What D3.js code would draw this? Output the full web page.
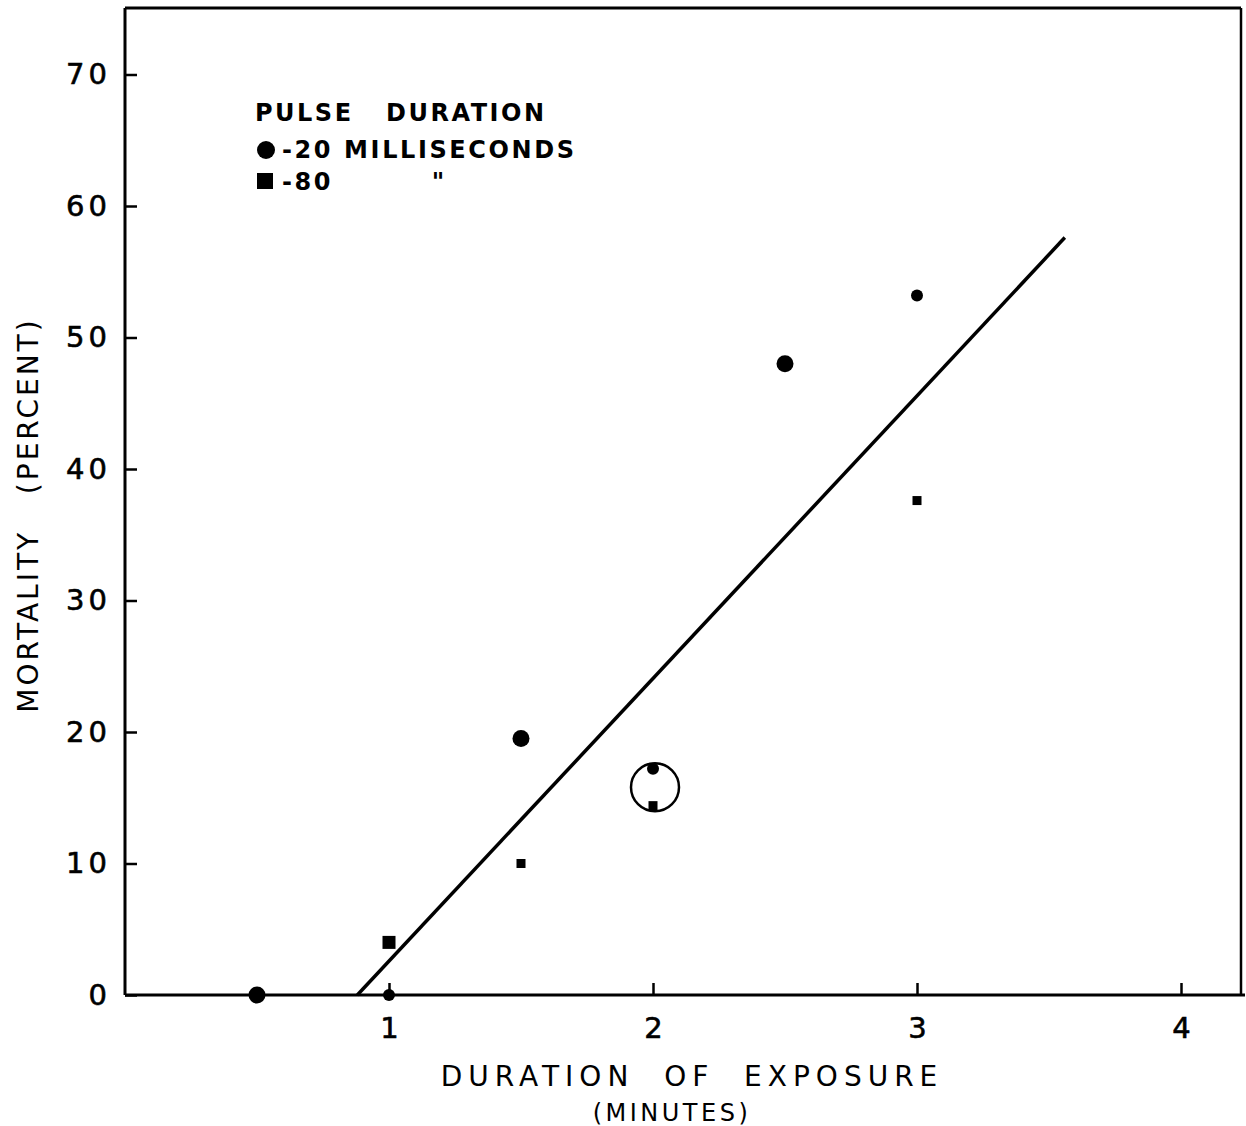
<!DOCTYPE html>
<html><head><meta charset="utf-8">
<script src="https://cdn.jsdelivr.net/npm/d3@7"></script>
<style>
html,body{margin:0;padding:0;background:#fff;}
text{font-family:"DejaVu Sans","Liberation Sans",sans-serif;fill:#000;}
</style></head>
<body>
<script>
// ---- data ----
const xTicks = [1, 2, 3, 4];
const yTicks = [0, 10, 20, 30, 40, 50, 60, 70];
const ms20X = [0.5, 1.0, 1.5, 2.0, 2.5, 3.0];
const ms20Y = [0, 0, 19.5, 17.2, 48.0, 53.2];
const ms80X = [1.0, 1.5, 2.0, 3.0];
const ms80Y = [4.0, 10.0, 14.4, 37.6];
const fitX = [0.88, 3.56];
const fitY = [0, 57.6];
const circledX = [2.0];
const circledY = [15.8];
const legendTitle = "PULSE   DURATION";
const legendLabels = ["-20 MILLISECONDS", "-80         \""];
const xTitle = "DURATION  OF  EXPOSURE";
const xSub = "(MINUTES)";
const yTitle = "MORTALITY   (PERCENT)";

// ---- styles ----
const ms20Radius = [8.5, 6, 8.5, 6, 8.5, 6];
const ms80Side = [13, 9, 9, 9];

const W = 1246, H = 1126;
const svg = d3.select("body").append("svg").attr("width", W).attr("height", H);
const L = 125, T = 8, R = 1241, B = 995;
const x = d3.scaleLinear().domain([0, 4]).range([L, L + 4 * 264]);
const y = d3.scaleLinear().domain([0, 70]).range([B, B - 70 * 13.15]);

// frame
svg.append("line").attr("x1", L).attr("x2", L).attr("y1", T).attr("y2", B).attr("stroke", "#000").attr("stroke-width", 3);
svg.append("line").attr("x1", L).attr("x2", R).attr("y1", T).attr("y2", T).attr("stroke", "#000").attr("stroke-width", 3);
svg.append("line").attr("x1", R).attr("x2", R).attr("y1", T).attr("y2", B).attr("stroke", "#000").attr("stroke-width", 2.5);

// axes
const xAxis = svg.append("g").attr("transform", `translate(0,${B})`)
  .call(d3.axisBottom(x).tickValues(xTicks).tickSize(-12).tickPadding(22).tickFormat(d3.format("d")));
xAxis.select(".domain").remove();
xAxis.append("line").attr("x1", L).attr("x2", R + 4).attr("stroke", "#000").attr("stroke-width", 3);
xAxis.selectAll(".tick line").attr("stroke", "#000").attr("stroke-width", 2.5);
xAxis.selectAll(".tick text").attr("font-size", 29).attr("font-family", "DejaVu Sans").attr("fill", "#000")
  .attr("stroke", "#000").attr("stroke-width", 0.6).attr("dy", "0.71em");

const yAxis = svg.append("g").attr("transform", `translate(${L},0)`)
  .call(d3.axisLeft(y).tickValues(yTicks).tickSize(-12).tickPadding(14).tickFormat(d3.format("d")));
yAxis.select(".domain").remove();
yAxis.selectAll(".tick line").attr("stroke", "#000").attr("stroke-width", 2.5);
yAxis.selectAll(".tick text").attr("font-size", 29).attr("font-family", "DejaVu Sans").attr("fill", "#000")
  .attr("stroke", "#000").attr("stroke-width", 0.6).attr("letter-spacing", 4);

// fit line
svg.append("line")
  .attr("x1", x(fitX[0])).attr("y1", y(fitY[0]))
  .attr("x2", x(fitX[1])).attr("y2", y(fitY[1]))
  .attr("stroke", "#000").attr("stroke-width", 3.5);

// circled group
svg.selectAll(".ring").data(circledX).enter().append("circle")
  .attr("cx", (d, i) => x(d) + 2).attr("cy", (d, i) => y(circledY[i]))
  .attr("r", 24).attr("fill", "none").attr("stroke", "#000").attr("stroke-width", 2.5);

// 20 ms circles
svg.selectAll(".c20").data(ms20X).enter().append("circle")
  .attr("cx", d => x(d)).attr("cy", (d, i) => y(ms20Y[i]))
  .attr("r", (d, i) => ms20Radius[i]).attr("fill", "#000");

// 80 ms squares
svg.selectAll(".s80").data(ms80X).enter().append("rect")
  .attr("x", (d, i) => x(d) - ms80Side[i] / 2).attr("y", (d, i) => y(ms80Y[i]) - ms80Side[i] / 2)
  .attr("width", (d, i) => ms80Side[i]).attr("height", (d, i) => ms80Side[i]).attr("fill", "#000");

// legend
const lg = svg.append("g");
lg.append("text").attr("x", 255).attr("y", 121).attr("font-size", 24).attr("font-weight", "bold")
  .attr("letter-spacing", 2.5).style("white-space", "pre").text(legendTitle);
lg.append("circle").attr("cx", 266).attr("cy", 150).attr("r", 9).attr("fill", "#000");
lg.append("text").attr("x", 282).attr("y", 158).attr("font-size", 24).attr("font-weight", "bold")
  .attr("letter-spacing", 2.6).style("white-space", "pre").text(legendLabels[0]);
lg.append("rect").attr("x", 257).attr("y", 173).attr("width", 16).attr("height", 16).attr("fill", "#000");
lg.append("text").attr("x", 282).attr("y", 190).attr("font-size", 24).attr("font-weight", "bold")
  .attr("letter-spacing", 2.6).style("white-space", "pre").text(legendLabels[1]);

// axis titles
svg.append("text").attr("x", 692).attr("y", 1086).attr("text-anchor", "middle").attr("font-size", 28)
  .attr("letter-spacing", 6).style("white-space", "pre").text(xTitle);
svg.append("text").attr("x", 672).attr("y", 1121).attr("text-anchor", "middle").attr("font-size", 24)
  .attr("letter-spacing", 3.5).text(xSub);
svg.append("text").attr("transform", "translate(38,515) rotate(-90)").attr("text-anchor", "middle")
  .attr("font-size", 28).attr("letter-spacing", 3).style("white-space", "pre").text(yTitle);
</script>
</body></html>
